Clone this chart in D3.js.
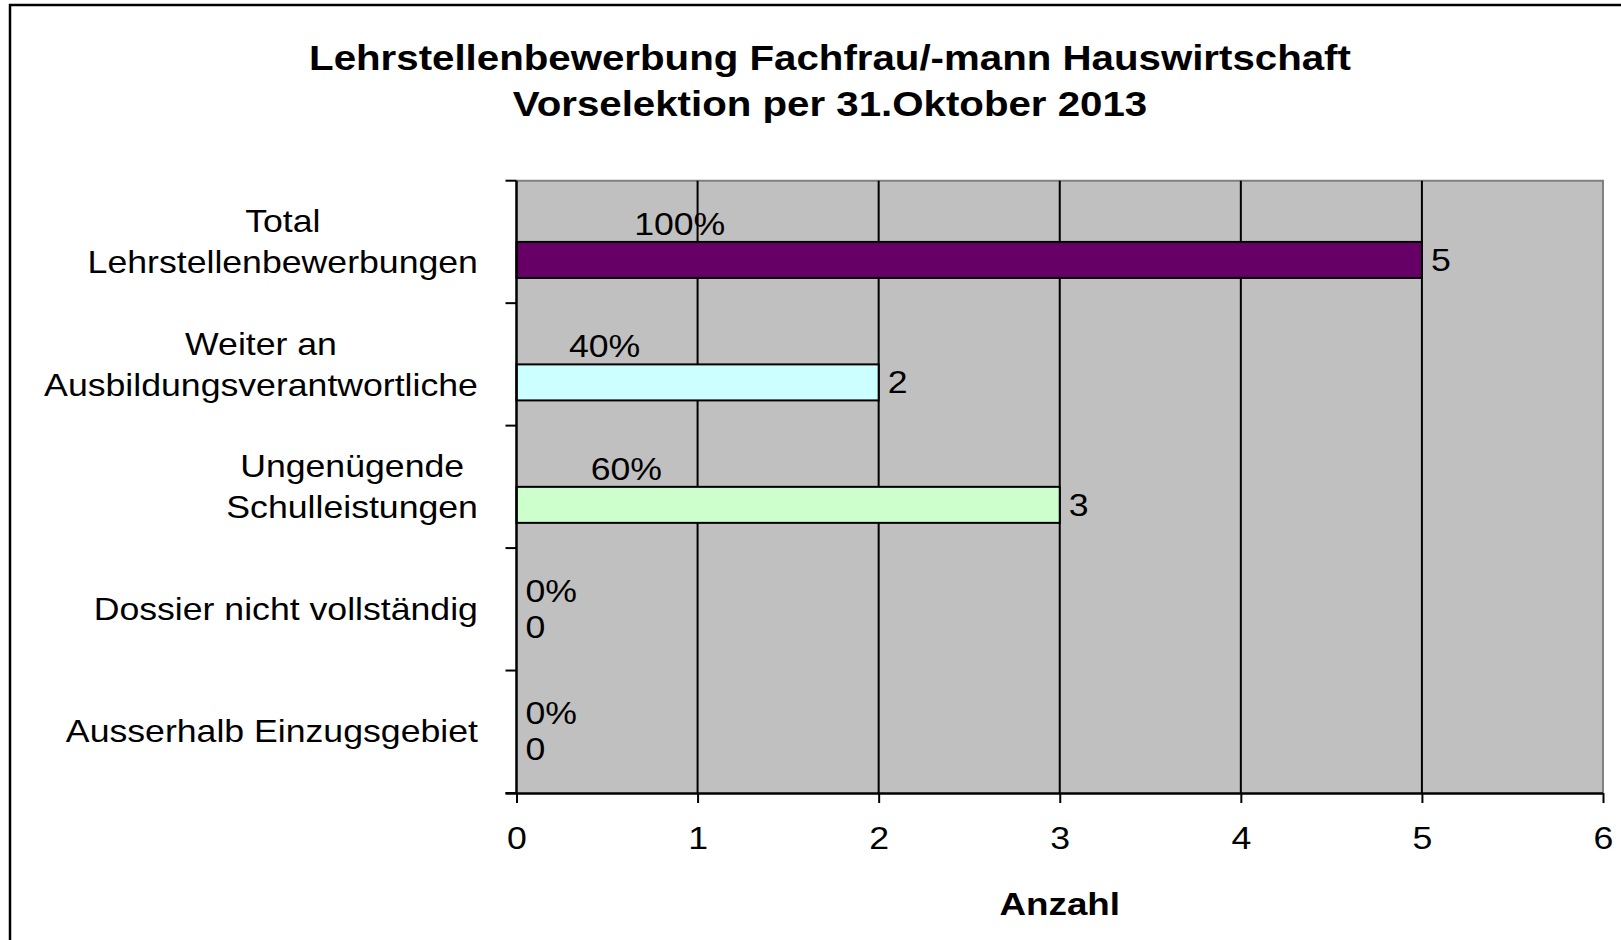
<!DOCTYPE html>
<html>
<head>
<meta charset="utf-8">
<script src="https://cdn.jsdelivr.net/npm/d3@7"></script>
<style>
  body { margin: 0; background: #fff; }
  svg text { font-family: "Liberation Sans", Arial, sans-serif; fill: #000; }
</style>
</head>
<body>
<svg id="chart" width="1621" height="940"></svg>
<script>
(function () {
  // ---------- Data ----------
  const categories = [
    "Total Lehrstellenbewerbungen",
    "Weiter an Ausbildungsverantwortliche",
    "Ungenügende Schulleistungen",
    "Dossier nicht vollständig",
    "Ausserhalb Einzugsgebiet"
  ];
  const categoryLines = [
    ["Total", "Lehrstellenbewerbungen"],
    ["Weiter an", "Ausbildungsverantwortliche"],
    ["Ungenügende ", "Schulleistungen"],
    ["Dossier nicht vollständig"],
    ["Ausserhalb Einzugsgebiet"]
  ];
  const counts = [5, 2, 3, 0, 0];
  const percents = [1, 0.4, 0.6, 0, 0];
  const barColors = ["#660066", "#CCFFFF", "#CCFFCC", "#CCFFCC", "#CCFFCC"];
  const xTicks = [0, 1, 2, 3, 4, 5, 6];
  const titleLines = [
    "Lehrstellenbewerbung Fachfrau/-mann Hauswirtschaft",
    "Vorselektion per 31.Oktober 2013"
  ];
  const xTitle = "Anzahl";

  // ---------- Layout ----------
  const stretch = 1.15; // source picture is wider than tall
  const plot = { left: 516.5, right: 1603, top: 180.7, bottom: 793 };

  const svg = d3.select("#chart");

  // outer frame (runs off the right/bottom edge)
  svg.append("rect")
    .attr("x", 10).attr("y", 5)
    .attr("width", 1680).attr("height", 1000)
    .attr("fill", "#fff")
    .attr("stroke", "#000")
    .attr("stroke-width", 2.5);

  const x = d3.scaleLinear().domain([0, 6]).range([plot.left, plot.right]);
  // percentages sit on a hidden secondary axis running 0..1000%
  const xPct = d3.scaleLinear().domain([0, 10]).range([plot.left, plot.right]);

  const y = d3.scaleBand()
    .domain(categories)
    .range([plot.top, plot.bottom])
    .padding(0);

  const ySeries = d3.scaleBand()
    .domain(["pct", "count"])
    .range([0, y.bandwidth()])
    .paddingInner(0)
    .paddingOuter(0.7);

  function stretched(sel, tx, ty) {
    return sel.attr("transform", (d, i) =>
      `translate(${tx(d, i)},${ty(d, i)}) scale(${stretch},1)`);
  }

  // plot background
  svg.append("rect")
    .attr("x", plot.left).attr("y", plot.top)
    .attr("width", plot.right - plot.left)
    .attr("height", plot.bottom - plot.top)
    .attr("fill", "#c0c0c0");

  // top / right frame of the plot area
  svg.append("path")
    .attr("d", `M${plot.left},${plot.top}H${plot.right}V${plot.bottom}`)
    .attr("fill", "none")
    .attr("stroke", "#808080")
    .attr("stroke-width", 2);

  // vertical grid lines
  svg.selectAll("line.grid")
    .data(xTicks.filter(t => t > 0 && t < 6))
    .join("line")
    .attr("class", "grid")
    .attr("x1", d => x(d)).attr("x2", d => x(d))
    .attr("y1", plot.top).attr("y2", plot.bottom)
    .attr("stroke", "#000")
    .attr("stroke-width", 2);

  // count bars
  svg.selectAll("rect.bar")
    .data(categories.map((c, i) => ({ cat: c, value: counts[i], color: barColors[i] })))
    .join("rect")
    .attr("class", "bar")
    .filter(d => d.value > 0)
    .attr("x", x(0))
    .attr("y", d => y(d.cat) + ySeries("count"))
    .attr("width", d => x(d.value) - x(0))
    .attr("height", ySeries.bandwidth())
    .attr("fill", d => d.color)
    .attr("stroke", "#000")
    .attr("stroke-width", 2);

  // axes lines
  const xAxis = svg.append("g")
    .attr("transform", `translate(0,${plot.bottom})`)
    .call(d3.axisBottom(x)
      .tickValues(xTicks)
      .tickFormat(d3.format("d"))
      .tickSize(10)
      .tickSizeOuter(0)
      .tickPadding(24));
  xAxis.select(".domain")
    .attr("d", `M${plot.left - 11},0.5H${plot.right}`)
    .attr("stroke", "#000").attr("stroke-width", 2.5);
  xAxis.selectAll(".tick line").attr("stroke", "#000").attr("stroke-width", 2);
  xAxis.selectAll(".tick text")
    .attr("font-size", 31)
    .attr("fill", "#000")
    .attr("dy", "0.71em")
    .attr("transform", `scale(${stretch},1)`);

  // category axis with ticks at band edges
  const yEdges = categories.map(c => y(c)).concat([plot.bottom]);
  svg.append("line")
    .attr("x1", plot.left).attr("x2", plot.left)
    .attr("y1", plot.top).attr("y2", plot.bottom)
    .attr("stroke", "#000").attr("stroke-width", 2.5);
  svg.selectAll("line.ytick")
    .data(yEdges)
    .join("line")
    .attr("class", "ytick")
    .attr("x1", plot.left - 11).attr("x2", plot.left)
    .attr("y1", d => d).attr("y2", d => d)
    .attr("stroke", "#000").attr("stroke-width", 2);

  // category labels (centered block, right edge near axis)
  const labelRight = 478;
  const lineGap = 41;
  const catGroups = svg.selectAll("g.cat")
    .data(categories.map((c, i) => ({ cat: c, lines: categoryLines[i] })))
    .join("g")
    .attr("class", "cat");
  catGroups.each(function (d) {
    const g = d3.select(this);
    const cy = y(d.cat) + y.bandwidth() / 2;
    const texts = g.selectAll("text")
      .data(d.lines)
      .join("text")
      .attr("font-size", 31)
      .attr("text-anchor", "middle")
      .attr("dominant-baseline", "central")
      .style("white-space", "pre")
      .text(t => t.trimEnd());
    const widest = d3.max(texts.nodes(), n => n.getComputedTextLength()) * stretch;
    const cx = labelRight - widest / 2;
    const n = d.lines.length;
    stretched(texts, () => cx, (t, i) => cy + (i - (n - 1) / 2) * lineGap);
  });

  // value labels
  const countLabels = svg.selectAll("text.count")
    .data(categories.map((c, i) => ({ cat: c, value: counts[i] })))
    .join("text")
    .attr("class", "count")
    .attr("font-size", 31)
    .attr("dominant-baseline", "central")
    .text(d => d.value);
  stretched(countLabels, d => x(d.value) + 9,
    d => y(d.cat) + ySeries("count") + ySeries.bandwidth() / 2);

  const pctLabels = svg.selectAll("text.pct")
    .data(categories.map((c, i) => ({ cat: c, value: percents[i] })))
    .join("text")
    .attr("class", "pct")
    .attr("font-size", 31)
    .attr("dominant-baseline", "central")
    .text(d => d3.format(".0%")(d.value));
  stretched(pctLabels, d => xPct(d.value) + 9,
    d => y(d.cat) + ySeries("pct") + ySeries.bandwidth() / 2);

  // titles
  const title = svg.selectAll("text.title")
    .data(titleLines)
    .join("text")
    .attr("class", "title")
    .attr("font-size", 35)
    .attr("font-weight", "bold")
    .attr("text-anchor", "middle")
    .text(d => d);
  stretched(title, () => 830, (d, i) => 70 + i * 46);

  stretched(svg.append("text")
    .datum(xTitle)
    .attr("font-size", 32)
    .attr("font-weight", "bold")
    .attr("text-anchor", "middle")
    .text(d => d), () => (plot.left + plot.right) / 2, () => 915);
})();
</script>
</body>
</html>
